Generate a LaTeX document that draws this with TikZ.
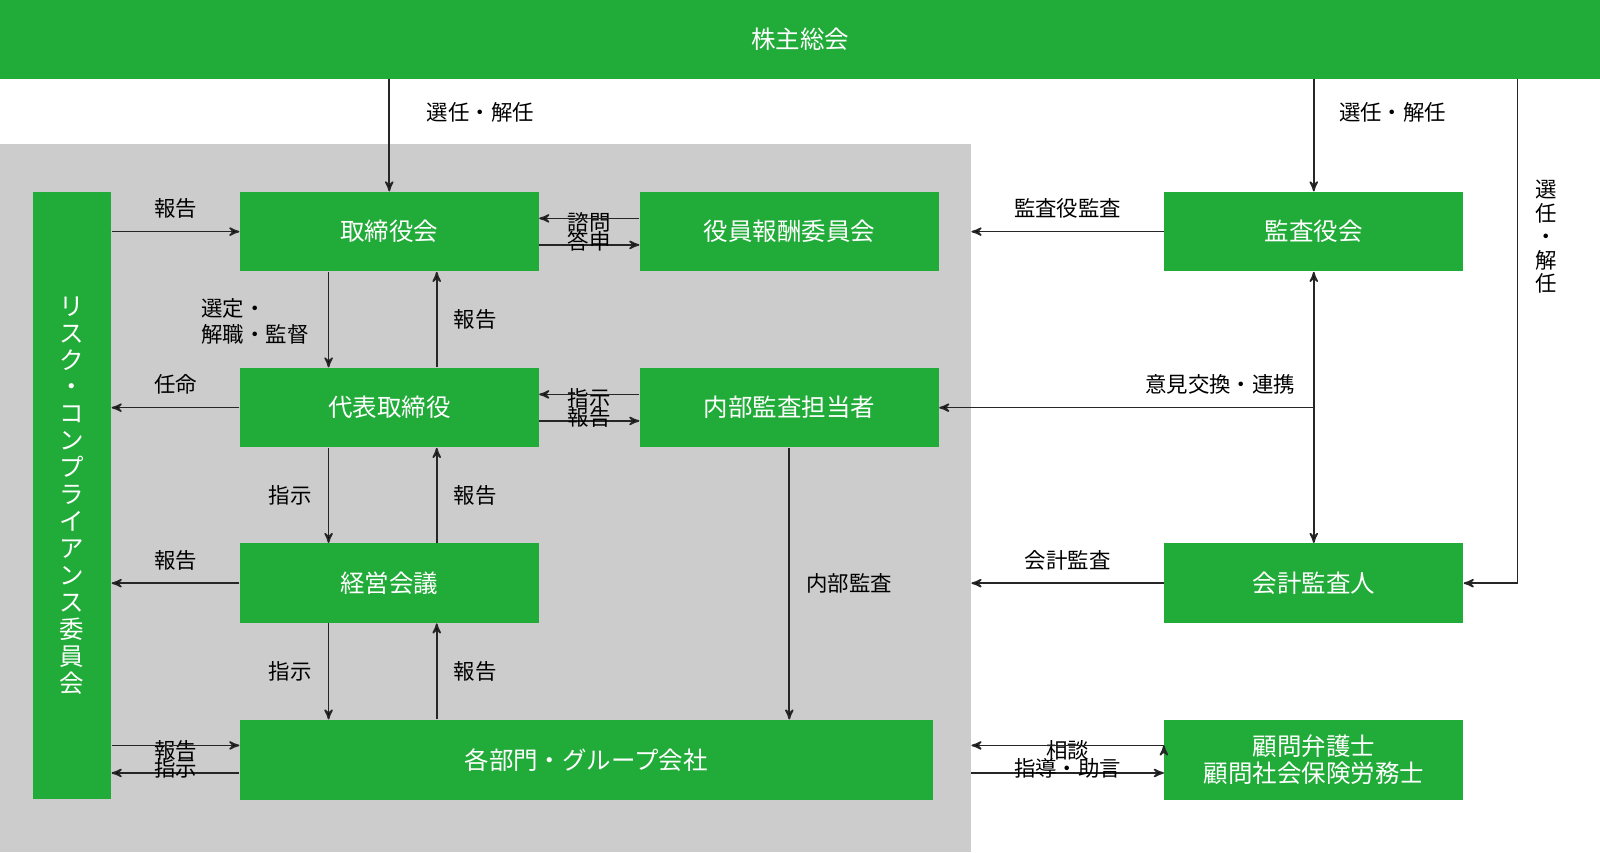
\documentclass[tikz,border=0pt]{standalone}
\usepackage{fontspec}
\setmainfont{Noto Sans CJK JP}
\usetikzlibrary{arrows,positioning}
\definecolor{kgreen}{HTML}{21AB38}
\definecolor{kgray}{HTML}{CCCCCC}
\tikzset{->,>=stealth',x=0.5pt,y=-0.5pt,
  box/.style={fill=kgreen,text=white,inner sep=0pt,minimum height=39pt,font=\fontsize{12}{14}\selectfont},
  lbl/.style={font=\fontsize{10.5}{12.5}\selectfont,inner sep=0pt},
  line/.style={thick,draw=black!85}}

\begin{document}
\begin{tikzpicture}
              \useasboundingbox (0,0) rectangle (1568,835);
              \fill[kgray] (0,141) rectangle (952,835);

              \node[box,minimum width=784pt,minimum height=38.5pt] (soukai) at (784,38.5) {株主総会};
              \node[box,minimum width=38.5pt,minimum height=297.5pt] (risk) at (70.5,485.5) {};
              \node[text=white,align=center,font=\fontsize{12}{13.2}\selectfont] at (risk) {リ\\ス\\ク\\・\\コ\\ン\\プ\\ラ\\イ\\ア\\ン\\ス\\委\\員\\会};

              \node[box,minimum width=146.5pt] (board) at (381.5,227) {取締役会};
              \node[box,minimum width=146.5pt] (comp) at (773.5,227) {役員報酬委員会};
              \node[box,minimum width=146.5pt] (audit) at (1287.5,227) {監査役会};
              \node[box,minimum width=146.5pt] (ceo) at (381.5,399.5) {代表取締役};
              \node[box,minimum width=146.5pt] (inner) at (773.5,399.5) {内部監査担当者};
              \node[box,minimum width=146.5pt] (mgmt) at (381.5,571.5) {経営会議};
              \node[box,minimum width=146.5pt] (acct) at (1287.5,571.5) {会計監査人};
              \node[box,minimum width=339.5pt] (dept) at (574.5,744.5) {各部門・グループ会社};
              \node[box,minimum width=146.5pt,align=center,font=\fontsize{12}{13}\selectfont] (advisor) at (1287.5,744.5) {顧問弁護士\\顧問社会保険労務士};

              \coordinate (gray) at (952,0);
              \coordinate (side) at (1487,0);

              \path[line]
              (soukai.south -| board) edge node[lbl,right=18pt,pos=0.3] {選任・解任} (board.north)
              (soukai.south -| audit) edge node[lbl,right=12pt,pos=0.3] {選任・解任} (audit.north)
              (risk.east |- board) edge node[lbl,above=6pt] {報告} (board.west)
              ([yshift=-6.5pt]board.east) edge node[lbl,above=6pt] {諮問} ([yshift=-6.5pt]comp.west)
              ([yshift=6.5pt]comp.west) edge node[lbl,below=6pt] {答申} ([yshift=6.5pt]board.east)
              (audit.west) edge node[lbl,above=6pt] {監査役監査} (gray |- audit)
              ([xshift=-29.75pt]board.south) edge ([xshift=-29.75pt]ceo.north)
              ([xshift=23.25pt]ceo.north) edge node[lbl,right=8pt] {報告} ([xshift=23.25pt]board.south)
              (ceo.west) edge node[lbl,above=6pt] {任命} (risk.east |- ceo)
              ([yshift=-6.5pt]ceo.east) edge node[lbl,above=6pt] {指示} ([yshift=-6.5pt]inner.west)
              ([yshift=6.5pt]inner.west) edge node[lbl,below=6pt] {報告} ([yshift=6.5pt]ceo.east)
              (audit.south |- inner) edge node[lbl,above=6pt,pos=0.25] {意見交換・連携} (inner.east)
              (audit.south |- inner) edge (audit.south)
              (audit.south |- inner) edge (acct.north)
              ([xshift=-29.75pt]ceo.south) edge node[lbl,left=8pt] {指示} ([xshift=-29.75pt]mgmt.north)
              ([xshift=23.25pt]mgmt.north) edge node[lbl,right=8pt] {報告} ([xshift=23.25pt]ceo.south)
              (mgmt.west) edge node[lbl,above=6pt] {報告} (risk.east |- mgmt)
              (acct.west) edge node[lbl,above=6pt] {会計監査} (gray |- acct)
              (inner.south) edge node[lbl,right=8pt] {内部監査} (inner.south |- dept.north)
              ([xshift=-29.75pt]mgmt.south) edge node[lbl,left=8pt] {指示} ([xshift=-29.75pt]mgmt.south |- dept.north)
              ([xshift=23.25pt]mgmt.south |- dept.north) edge node[lbl,right=8pt] {報告} ([xshift=23.25pt]mgmt.south)
              ([yshift=-6.5pt]dept.west) edge node[lbl,above=6pt] {報告} ([yshift=-6.5pt]risk.east |- dept)
              ([yshift=7pt]risk.east |- dept) edge node[lbl,below=6pt] {指示} ([yshift=7pt]dept.west)
              ([yshift=-6.5pt]gray |- advisor) edge node[lbl,above=6pt] {相談} ([yshift=-6.5pt]advisor.west)
              ([yshift=7pt]advisor.west) edge node[lbl,below=6pt] {指導・助言} ([yshift=7pt]gray |- advisor)
              ;
              \draw[line] (soukai.south -| side) -- (side |- acct) -- (acct.east);
              \node[lbl,align=center,font=\fontsize{10.5}{11.5}\selectfont] at (1515,232) {選\\任\\・\\解\\任};
              \node[lbl,align=left,font=\fontsize{10.5}{13}\selectfont] at (250,315) {選定・\\解職・監督};
            \end{tikzpicture}
\end{document}
